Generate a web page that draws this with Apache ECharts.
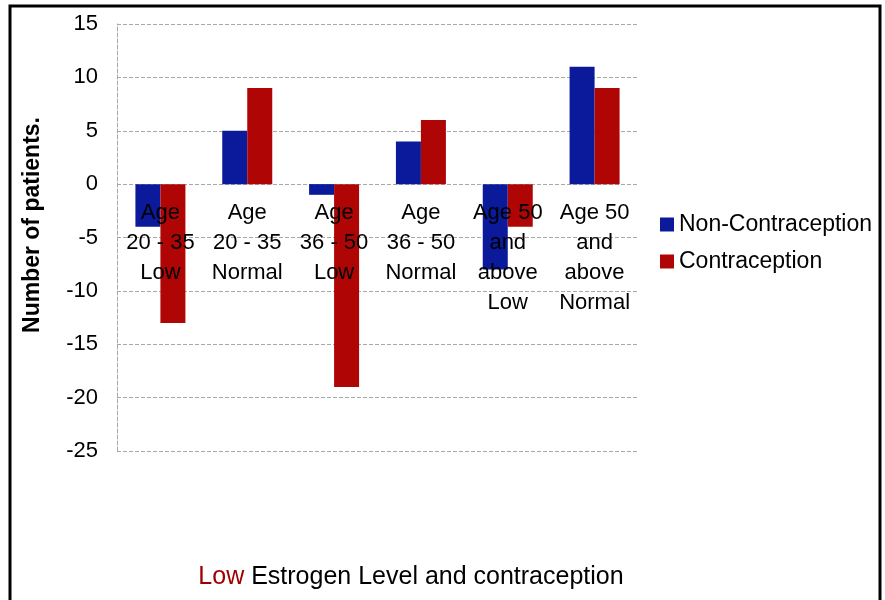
<!DOCTYPE html>
<html>
<head>
<meta charset="utf-8">
<script src="https://cdn.jsdelivr.net/npm/echarts@6/dist/echarts.min.js"></script>
<style>
  html, body { margin: 0; padding: 0; background: #fff; }
  #chart { width: 885px; height: 600px; }
</style>
</head>
<body>
<div id="chart"></div>
<script>
  // 类别与数据
  const categories = [
    "Age\n20 - 35\nLow",
    "Age\n20 - 35\nNormal",
    "Age\n36 - 50\nLow",
    "Age\n36 - 50\nNormal",
    "Age 50\nand\nabove\nLow",
    "Age 50\nand\nabove\nNormal"
  ];
  const nonContraception = [-4, 5, -1, 4, -8, 11];
  const contraception = [-13, 9, -19, 6, -4, 9];
  const seriesNames = ["Non-Contraception", "Contraception"];
  const colorArr = ["#0a1a9a", "#b00505"];

  const font = "Liberation Sans, Arial, sans-serif";
  const gridLine = { color: "#a8a8a8", type: [4, 2], width: 1 };

  let myChart = echarts.init(document.getElementById("chart"));
  let option = {
    animation: false,
    textStyle: { fontFamily: font },
    title: {
      text: "{r|Low} Estrogen Level and contraception",
      left: 406,
      textAlign: "center",
      top: 560,
      textStyle: {
        fontFamily: font,
        fontSize: 25,
        fontWeight: "normal",
        color: "#000",
        rich: {
          r: { fontFamily: font, fontSize: 25, color: "#a00000" }
        }
      }
    },
    legend: {
      data: seriesNames,
      orient: "vertical",
      left: 655,
      top: 208,
      itemWidth: 14,
      itemHeight: 14,
      itemGap: 14,
      icon: "rect",
      textStyle: { fontFamily: font, fontSize: 23, color: "#000" }
    },
    grid: {
      left: 117,
      right: 247,
      top: 24,
      bottom: 149
    },
    xAxis: {
      type: "category",
      data: categories,
      position: "bottom",
      // 把轴移到0刻度处, 文字压在柱子上面
      offset: -267,
      z: 5,
      axisLine: { show: false, onZero: false },
      axisTick: { show: false },
      axisLabel: {
        interval: 0,
        color: "#000",
        fontFamily: font,
        fontSize: 22,
        lineHeight: 30,
        margin: 14,
        verticalAlign: "top"
      },
      splitLine: { show: false }
    },
    yAxis: {
      type: "value",
      min: -25,
      max: 15,
      interval: 5,
      axisLine: { show: true, lineStyle: gridLine },
      axisTick: { show: false },
      axisLabel: {
        color: "#000",
        fontFamily: font,
        fontSize: 22,
        margin: 19
      },
      splitLine: { show: true, lineStyle: gridLine }
    },
    graphic: [
      {
        type: "rect",
        shape: { x: 10, y: 6, width: 870, height: 620 },
        style: { fill: "none", stroke: "#000", lineWidth: 3 },
        silent: true
      },
      {
        type: "text",
        x: 33,
        y: 225,
        rotation: Math.PI / 2,
        style: {
          text: "Number of patients.",
          fontFamily: font,
          fontSize: 23,
          fontWeight: "bold",
          fill: "#000",
          align: "center",
          verticalAlign: "middle"
        }
      }
    ],
    series: [
      {
        name: seriesNames[0],
        type: "bar",
        data: nonContraception,
        barWidth: 25,
        barGap: "0%",
        itemStyle: { color: colorArr[0] }
      },
      {
        name: seriesNames[1],
        type: "bar",
        data: contraception,
        barWidth: 25,
        barGap: "0%",
        itemStyle: { color: colorArr[1] }
      }
    ]
  };
  myChart.setOption(option);
</script>
</body>
</html>
